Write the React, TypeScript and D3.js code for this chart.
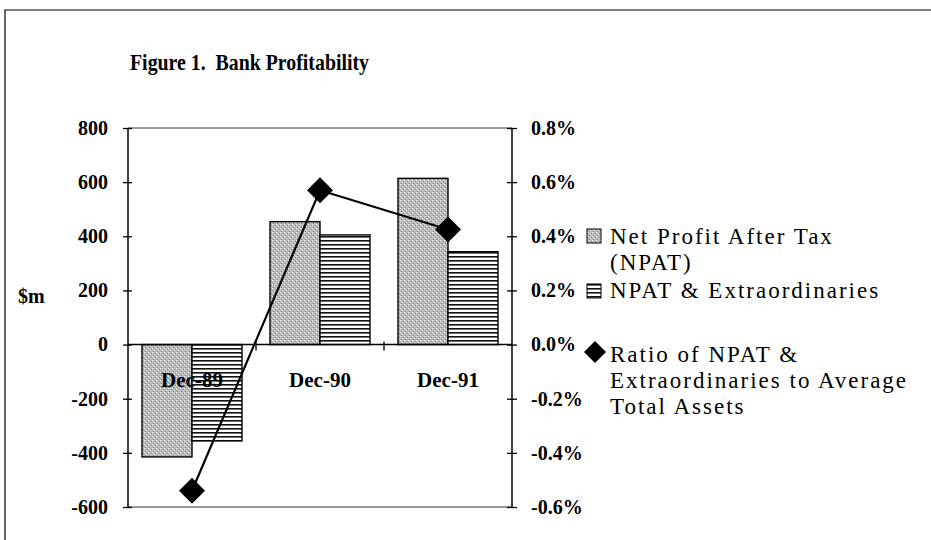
import React, { useEffect, useRef } from "react";
import { select, scaleBand, scaleLinear, axisLeft, axisRight, line } from "d3";

const categories = ["Dec-89", "Dec-90", "Dec-91"];
const seriesNames = ["Net Profit After Tax (NPAT)", "NPAT & Extraordinaries"];
const npat = [-415, 454, 614];
const npatExtra = [-356, 405, 343];
const ratioPct = [-0.54, 0.57, 0.425];
const leftTicks = [-600, -400, -200, 0, 200, 400, 600, 800];
const rightTicks = [-0.6, -0.4, -0.2, 0.0, 0.2, 0.4, 0.6, 0.8];

const W = 931;
const H = 540;
const serif = "Liberation Serif";
const legendFamily = "'Liberation Serif', 'Times New Roman', 'DejaVu Serif', serif";

export default function App() {
  const leftRef = useRef<SVGGElement>(null);
  const rightRef = useRef<SVGGElement>(null);

  const x = scaleBand().domain(categories).range([128, 512]).padding(0);
  const xInner = scaleBand().domain(seriesNames).range([0, x.bandwidth()]).paddingInner(0).paddingOuter(0.28);
  const y = scaleLinear().domain([-600, 800]).range([507, 128]);
  const yR = scaleLinear().domain([-0.6, 0.8]).range([507, 128]);

  const barData = categories.map((c, i) => [
    { cat: c, key: seriesNames[0], v: npat[i] },
    { cat: c, key: seriesNames[1], v: npatExtra[i] },
  ]);

  const lineGen = line<number>()
    .x((_, i) => (x(categories[i]) as number) + x.bandwidth() / 2)
    .y(d => yR(d));

  useEffect(() => {
    const gl = select(leftRef.current);
    gl.call(axisLeft(y).tickValues(leftTicks).tickSize(5).tickPadding(15).tickFormat(d => String(d)) as any);
    gl.select(".domain").remove();
    gl.selectAll(".tick line").attr("x1", 4).attr("stroke", "#000").attr("stroke-width", 1.3);
    gl.selectAll(".tick text")
      .attr("font-family", serif).attr("font-size", 20).attr("font-weight", "bold").attr("fill", "#000");

    const gr = select(rightRef.current);
    gr.call(axisRight(yR).tickValues(rightTicks).tickSize(5).tickPadding(14).tickFormat(d => (+d).toFixed(1) + "%") as any);
    gr.select(".domain").remove();
    gr.selectAll(".tick line").attr("x1", -5).attr("stroke", "#000").attr("stroke-width", 1.3);
    gr.selectAll(".tick text")
      .attr("font-family", serif).attr("font-size", 20).attr("font-weight", "bold").attr("fill", "#000");
  }, []);

  const diamond = (cx: number, cy: number, r: number) =>
    `M${cx},${cy - r}L${cx + r},${cy}L${cx},${cy + r}L${cx - r},${cy}Z`;

  const legendText = (tx: number, ty: number, s: string) => (
    <text x={tx} y={ty} style={{ fontFamily: legendFamily, fontSize: "23px", letterSpacing: "2px", fontWeight: 400 }} fill="#000">
      {s}
    </text>
  );

  return (
    <svg width={W} height={H} style={{ position: "absolute", left: 0, top: 0, background: "#fff" }}>
      <defs>
        <pattern id="stipple" width="4" height="4" patternUnits="userSpaceOnUse">
          <rect width="4" height="4" fill="#bcbcbc" />
          <rect x="0" y="0" width="1" height="1" fill="#f2f2f2" />
          <rect x="2" y="2" width="1" height="1" fill="#e0e0e0" />
          <rect x="1" y="3" width="1" height="1" fill="#7a7a7a" />
          <rect x="3" y="1" width="1" height="1" fill="#8a8a8a" />
        </pattern>
        <pattern id="stripes" width="4" height="4" patternUnits="userSpaceOnUse">
          <rect width="4" height="4" fill="#fff" />
          <rect y="0" width="4" height="1.6" fill="#111" />
        </pattern>
      </defs>

      <path d={`M5,${H + 5}V10H${W + 5}`} fill="none" stroke="#000" strokeWidth={1.2} />

      <text x={130} y={70} fontFamily={serif} fontSize={23} fontWeight="bold" textLength={239} lengthAdjust="spacingAndGlyphs">
        Figure 1.{"\u00a0\u00a0"}Bank Profitability
      </text>

      <text x={18} y={303} fontFamily={serif} fontSize={20} fontWeight="bold">$m</text>

      {/* plot frame top/bottom */}
      <line x1={128} x2={512} y1={y(800)} y2={y(800)} stroke="#333" strokeWidth={1} />
      <line x1={128} x2={512} y1={y(-600)} y2={y(-600)} stroke="#333" strokeWidth={1.2} />

      {barData.map(group =>
        group.map(d => {
          const bx = (x(d.cat) as number) + (xInner(d.key) as number);
          const top = y(Math.max(0, d.v));
          const h = Math.abs(y(d.v) - y(0));
          return (
            <rect
              key={d.cat + d.key}
              x={bx}
              y={top}
              width={xInner.bandwidth()}
              height={h}
              fill={d.key === seriesNames[0] ? "url(#stipple)" : "url(#stripes)"}
              stroke="#000"
              strokeWidth={1.4}
            />
          );
        })
      )}

      {/* zero line with category ticks */}
      <line x1={128} x2={512} y1={y(0)} y2={y(0)} stroke="#000" strokeWidth={1.5} />
      {categories.slice(1).map(c => (
        <line key={c} x1={x(c) as number} x2={x(c) as number} y1={y(0) - 3} y2={y(0) + 6} stroke="#000" strokeWidth={1.3} />
      ))}

      <line x1={128} x2={128} y1={y(800)} y2={y(-600)} stroke="#000" strokeWidth={1.5} />
      <line x1={512} x2={512} y1={y(800)} y2={y(-600)} stroke="#000" strokeWidth={1.5} />
      <g ref={leftRef} transform="translate(128,0)" />
      <g ref={rightRef} transform="translate(512,0)" />

      {categories.map(c => (
        <text
          key={c}
          x={(x(c) as number) + x.bandwidth() / 2}
          y={387}
          textAnchor="middle"
          fontFamily={serif}
          fontSize={21}
          fontWeight="bold"
        >
          {c}
        </text>
      ))}

      <path d={lineGen(ratioPct) as string} fill="none" stroke="#000" strokeWidth={2.2} />
      {ratioPct.map((v, i) => (
        <path key={i} d={diamond((x(categories[i]) as number) + x.bandwidth() / 2, yR(v), 13)} fill="#000" />
      ))}

      {/* legend */}
      <rect x={587} y={229} width={14} height={14} fill="url(#stipple)" stroke="#000" strokeWidth={1} />
      {legendText(610, 244, "Net Profit After Tax")}
      {legendText(610, 270, "(NPAT)")}

      <rect x={587} y={284} width={14} height={14} fill="url(#stripes)" stroke="#000" strokeWidth={1} />
      {legendText(610, 298, "NPAT & Extraordinaries")}

      <path d={diamond(595, 352, 11)} fill="#000" />
      {legendText(610, 362, "Ratio of NPAT &")}
      {legendText(610, 388, "Extraordinaries to Average")}
      {legendText(610, 414, "Total Assets")}
    </svg>
  );
}
